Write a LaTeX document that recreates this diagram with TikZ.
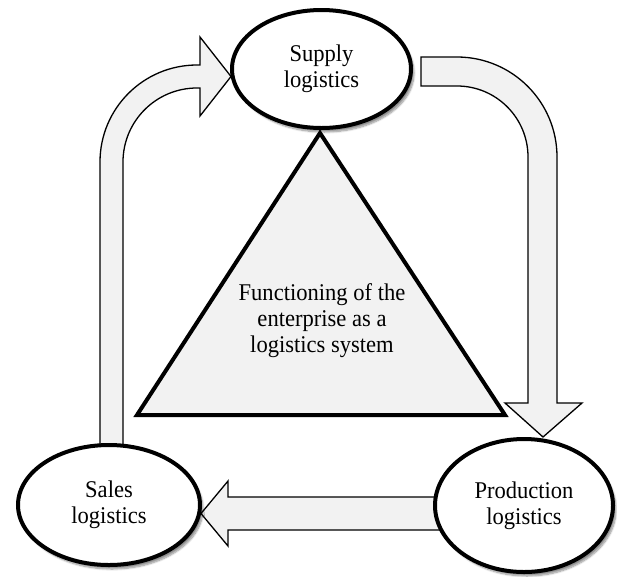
\documentclass[tikz,border=0pt]{standalone}
\usepackage{fontspec}
\setmainfont{Liberation Serif}
\usetikzlibrary{shapes.geometric,shadows.blur}
\definecolor{boxfill}{HTML}{F2F2F2}
\begin{document}
\begin{tikzpicture}[x=1pt,y=-1pt,
  blockarrow/.style={draw=black, line width=1.3pt, fill=boxfill, line join=miter},
  tri/.style={draw=black, line width=4pt, fill=boxfill, line join=miter},
  lbl/.style={align=center, font=\fontsize{24}{26}\selectfont\addfontfeature{FakeStretch=0.94}},
  logit/.style={ellipse, draw=black, line width=4pt, fill=white, inner sep=0pt, lbl,
    blur shadow={shadow xshift=3pt, shadow yshift=-4pt, shadow blur steps=8, shadow opacity=45}},
]
\useasboundingbox (0,0) rectangle (617,576);
% block arrows
\draw[blockarrow] (100,470) -- (100,162) .. controls (100,108.4) and (143.4,65) .. (197,65)
  -- (200,65) -- (200,37) -- (231,76.5) -- (200,116) -- (200,88) -- (197,88)
  .. controls (156.1,88) and (123,121.1) .. (123,162) -- (123,470) -- cycle;
\draw[blockarrow] (421,57) -- (457,57) .. controls (512.2,57) and (557,101.8) .. (557,157)
  -- (557,403) -- (582,403) -- (543,437) -- (505,403) -- (528,403) -- (528,157)
  .. controls (528,117.8) and (496.2,86) .. (457,86) -- (421,86) -- cycle;
\draw[blockarrow] (470,497) -- (228,497) -- (228,481) -- (201,513.5) -- (228,546)
  -- (228,530) -- (470,530) -- cycle;
% triangle
\coordinate (apex) at (320,133);
\coordinate (tr) at (505,415);
\coordinate (tl) at (137,415);
\draw[tri] (apex) -- (tr) -- (tl) -- cycle;
\node[lbl] (func) at (322,321) {Functioning of the\\enterprise as a\\logistics system};
% ellipses
\node[logit, minimum width=179pt, minimum height=118pt] (supply) at (321.5,69) {Supply\\logistics};
\node[logit, minimum width=182pt, minimum height=120pt] (sales) at (109,505) {Sales\\logistics};
\node[logit, minimum width=178pt, minimum height=133pt] (prod) at (524,505.5) {Production\\logistics};
\end{tikzpicture}
\end{document}
